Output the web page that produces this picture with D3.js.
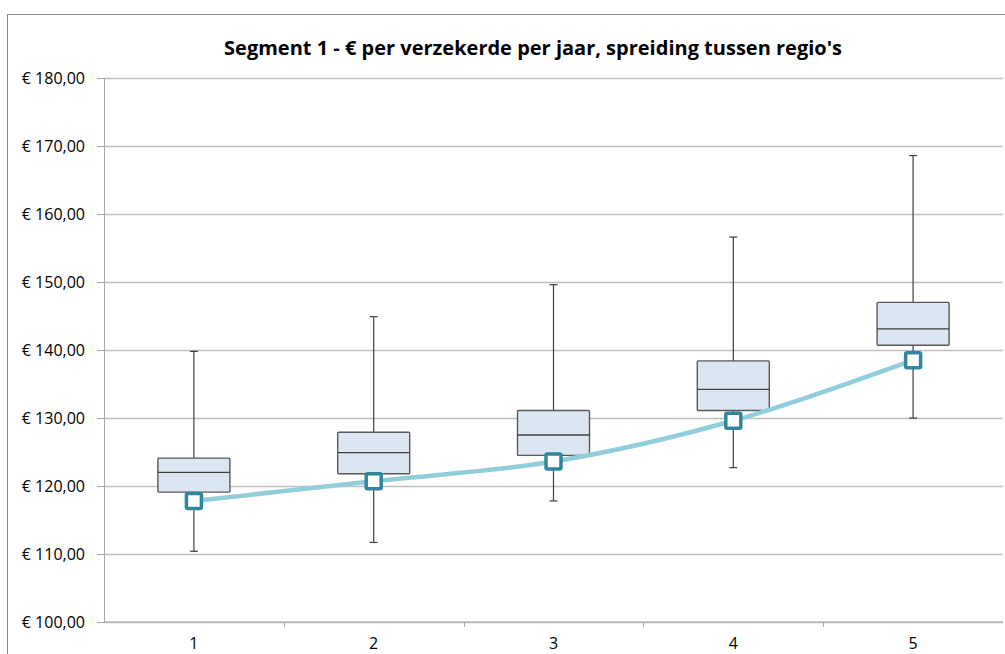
<!DOCTYPE html>
<html>
<head>
<meta charset="utf-8">
<script src="https://cdn.jsdelivr.net/npm/d3@7"></script>
<style>
  body { margin: 0; background: #fff; }
  text { font-family: "Open Sans", sans-serif; fill: #000; }
  .tick text { font-size: 16px; }
</style>
</head>
<body>
<div class="chart"></div>
<script>
var svgWidth = 1005;
var svgHeight = 654;

// data
var categories = ['1', '2', '3', '4', '5'];
var whiskerMax = [139.8, 144.9, 149.6, 156.6, 168.6];
var quartile3 = [124.1, 127.9, 131.1, 138.4, 147.0];
var medians = [122.0, 124.9, 127.5, 134.2, 143.1];
var quartile1 = [119.1, 121.8, 124.5, 131.1, 140.7];
var whiskerMin = [110.4, 111.7, 117.8, 122.7, 130.0];
var average = [117.8, 120.7, 123.6, 129.6, 138.5];
var yTicks = [100, 110, 120, 130, 140, 150, 160, 170, 180];

var margin = {top: 78, right: 2, bottom: 32, left: 104};
var width = svgWidth - margin.left - margin.right;
var height = svgHeight - margin.top - margin.bottom;

var svg = d3
  .select('.chart')
  .append('svg')
  .attr('width', svgWidth)
  .attr('height', svgHeight);

// outer chart border
svg.append('rect')
  .attr('x', 7.5).attr('y', 14.5)
  .attr('width', 1010).attr('height', 700)
  .attr('fill', 'none')
  .attr('stroke', '#868686')
  .attr('stroke-width', 1);

svg.append('text')
  .attr('x', 533)
  .attr('y', 55)
  .attr('text-anchor', 'middle')
  .style('font-size', '20px')
  .style('font-weight', 'bold')
  .text("Segment 1 - € per verzekerde per jaar, spreiding tussen regio's");

var chart = svg.append('g')
  .attr('transform', 'translate(' + margin.left + ',' + margin.top + ')');

var xScale = d3.scaleBand().domain(categories).range([0, width]);
var yScale = d3.scaleLinear().domain([100, 180]).range([height, 0]);

// gridlines
chart.append('g')
  .selectAll('line')
  .data(yTicks)
  .enter()
  .append('line')
  .attr('x1', 0)
  .attr('x2', width)
  .attr('y1', function(d) { return Math.round(yScale(d)) + 0.5; })
  .attr('y2', function(d) { return Math.round(yScale(d)) + 0.5; })
  .attr('stroke', '#bfbfbf')
  .attr('stroke-width', 1.4);

// y axis
var leftAxis = d3.axisLeft(yScale)
  .tickValues(yTicks)
  .tickSize(7)
  .tickPadding(12)
  .tickFormat(function(d) { return '€ ' + d3.format('.2f')(d).replace('.', ','); });

var yAxis = chart.append('g').call(leftAxis);
yAxis.attr('font-size', null).attr('font-family', null);
yAxis.select('.domain').attr('stroke', '#a6a6a6');
yAxis.selectAll('.tick line').attr('stroke', '#a6a6a6');
yAxis.selectAll('text').attr('fill', '#000');

// x axis, ticks on category boundaries
var xAxis = chart.append('g').attr('transform', 'translate(0,' + height + ')');
xAxis.append('line')
  .attr('x1', 0).attr('x2', width)
  .attr('stroke', '#a6a6a6');
xAxis.selectAll('.bound')
  .data(categories.slice(1))
  .enter()
  .append('line')
  .attr('class', 'bound')
  .attr('x1', function(d) { return Math.round(xScale(d)) + 0.5; })
  .attr('x2', function(d) { return Math.round(xScale(d)) + 0.5; })
  .attr('y1', 0).attr('y2', 5)
  .attr('stroke', '#a6a6a6');
xAxis.selectAll('.xlab')
  .data(categories)
  .enter()
  .append('text')
  .attr('x', function(d) { return xScale(d) + xScale.bandwidth() / 2; })
  .attr('y', 27)
  .attr('text-anchor', 'middle')
  .style('font-size', '16px')
  .text(function(d) { return d; });

var boxWidth = 72;
var capWidth = 8;
var cx = function(i) { return xScale(categories[i]) + xScale.bandwidth() / 2; };

var boxes = chart.append('g')
  .selectAll('g')
  .data(categories)
  .enter()
  .append('g');

// whiskers
boxes.append('line')
  .attr('x1', function(d, i) { return cx(i); })
  .attr('x2', function(d, i) { return cx(i); })
  .attr('y1', function(d, i) { return yScale(whiskerMax[i]); })
  .attr('y2', function(d, i) { return yScale(whiskerMin[i]); })
  .attr('stroke', '#404040')
  .attr('stroke-width', 1.2);

boxes.append('line')
  .attr('x1', function(d, i) { return cx(i) - capWidth / 2; })
  .attr('x2', function(d, i) { return cx(i) + capWidth / 2; })
  .attr('y1', function(d, i) { return yScale(whiskerMax[i]); })
  .attr('y2', function(d, i) { return yScale(whiskerMax[i]); })
  .attr('stroke', '#404040')
  .attr('stroke-width', 1.2);

boxes.append('line')
  .attr('x1', function(d, i) { return cx(i) - capWidth / 2; })
  .attr('x2', function(d, i) { return cx(i) + capWidth / 2; })
  .attr('y1', function(d, i) { return yScale(whiskerMin[i]); })
  .attr('y2', function(d, i) { return yScale(whiskerMin[i]); })
  .attr('stroke', '#404040')
  .attr('stroke-width', 1.2);

boxes.append('rect')
  .attr('x', function(d, i) { return cx(i) - boxWidth / 2; })
  .attr('y', function(d, i) { return yScale(quartile3[i]); })
  .attr('width', boxWidth)
  .attr('height', function(d, i) { return yScale(quartile1[i]) - yScale(quartile3[i]); })
  .attr('rx', 1)
  .attr('fill', '#dce6f2')
  .attr('stroke', '#595959')
  .attr('stroke-width', 1.4);

boxes.append('line')
  .attr('x1', function(d, i) { return cx(i) - boxWidth / 2; })
  .attr('x2', function(d, i) { return cx(i) + boxWidth / 2; })
  .attr('y1', function(d, i) { return yScale(medians[i]); })
  .attr('y2', function(d, i) { return yScale(medians[i]); })
  .attr('stroke', '#404040')
  .attr('stroke-width', 1.3);

// smoothed average line
var line = d3.line()
  .x(function(d, i) { return cx(i); })
  .y(function(d) { return yScale(d); })
  .curve(d3.curveCatmullRom.alpha(0.5));

chart.append('path')
  .datum(average)
  .attr('d', line)
  .attr('fill', 'none')
  .attr('stroke', '#92cddc')
  .attr('stroke-width', 4.5)
  .attr('stroke-linecap', 'round');

chart.append('g')
  .selectAll('rect')
  .data(average)
  .enter()
  .append('rect')
  .attr('x', function(d, i) { return cx(i) - 7.5; })
  .attr('y', function(d) { return yScale(d) - 7.5; })
  .attr('width', 15)
  .attr('height', 15)
  .attr('rx', 1.5)
  .attr('fill', '#fff')
  .attr('stroke', '#31859c')
  .attr('stroke-width', 3.5);
</script>
</body>
</html>
